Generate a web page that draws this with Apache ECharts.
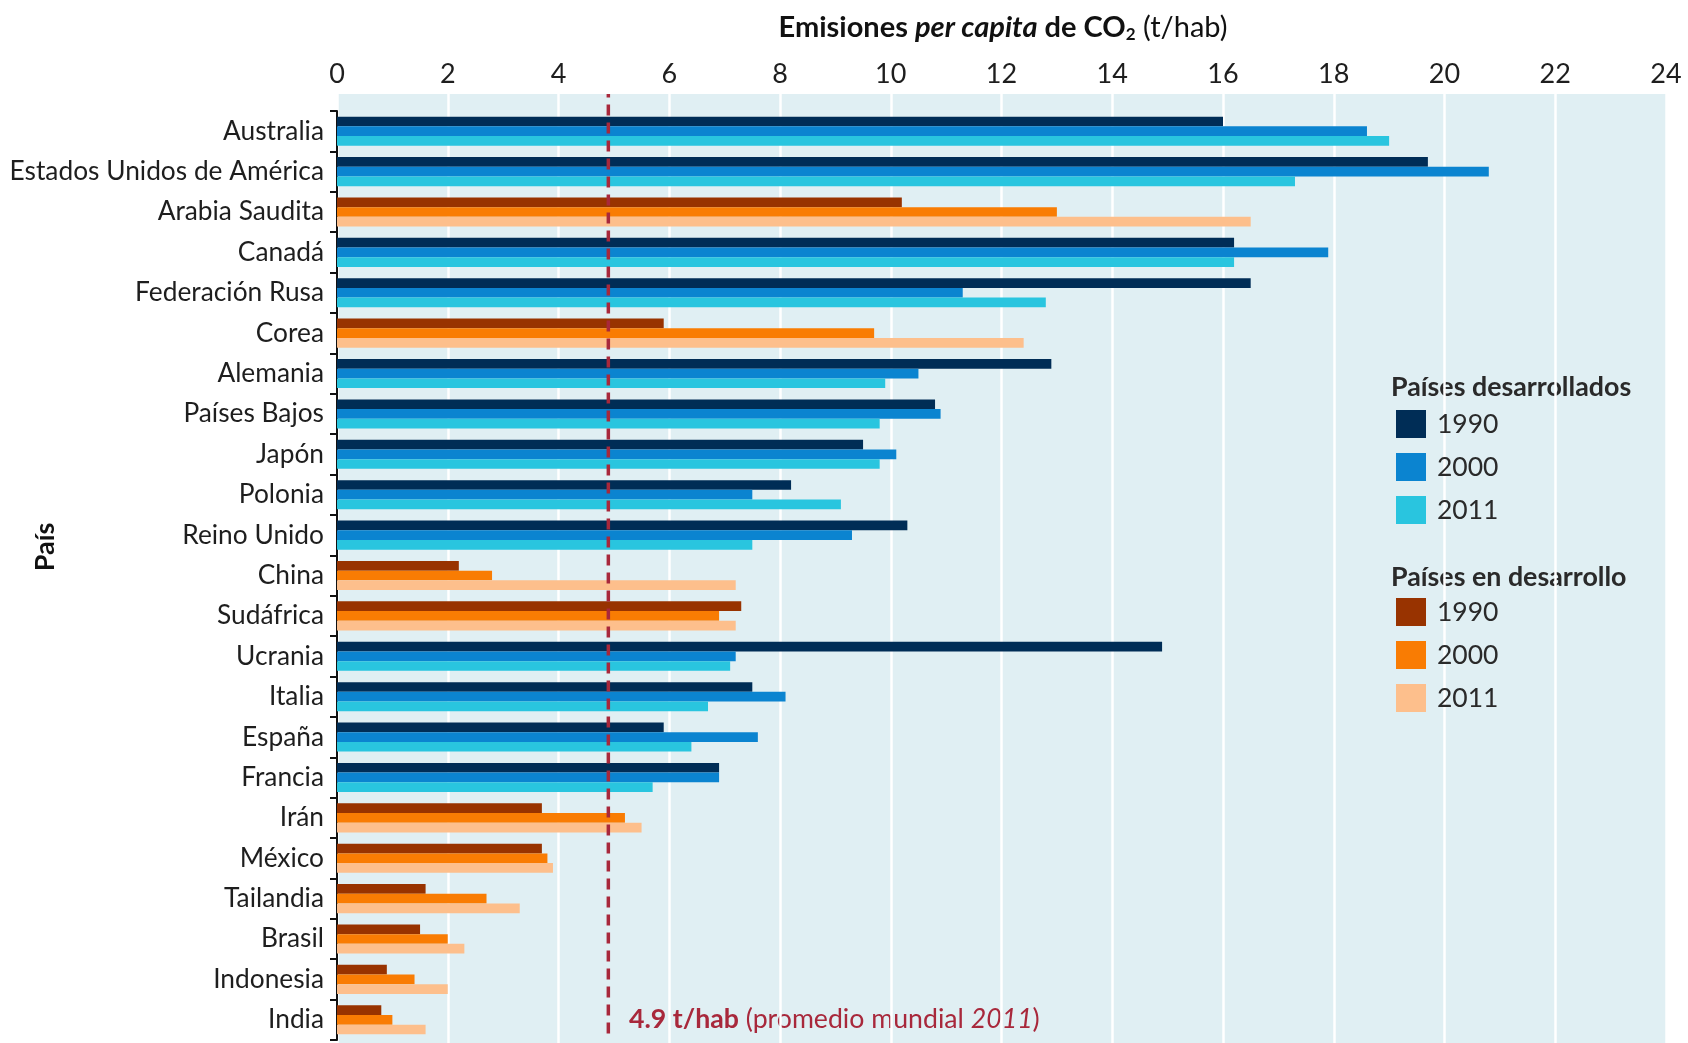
<!DOCTYPE html>
<html>
<head>
<meta charset="utf-8">
<title>Emisiones per capita de CO2</title>
<script src="https://cdn.jsdelivr.net/npm/echarts@6/dist/echarts.min.js"></script>
<style>
  html, body { margin: 0; padding: 0; background: #fff; }
  #main { width: 1688px; height: 1043px; }
</style>
</head>
<body>
<div id="main"></div>
<script>
// datos (t/hab)
var paises = ['Australia', 'Estados Unidos de América', 'Arabia Saudita', 'Canadá', 'Federación Rusa',
  'Corea', 'Alemania', 'Países Bajos', 'Japón', 'Polonia', 'Reino Unido', 'China', 'Sudáfrica',
  'Ucrania', 'Italia', 'España', 'Francia', 'Irán', 'México', 'Tailandia', 'Brasil', 'Indonesia', 'India'];
// 'd' = país desarrollado, 'e' = país en desarrollo
var grupo = ['d', 'd', 'e', 'd', 'd', 'e', 'd', 'd', 'd', 'd', 'd', 'e', 'e',
  'd', 'd', 'd', 'd', 'e', 'e', 'e', 'e', 'e', 'e'];
var v1990 = [16.0, 19.7, 10.2, 16.2, 16.5, 5.9, 12.9, 10.8, 9.5, 8.2, 10.3, 2.2, 7.3,
  14.9, 7.5, 5.9, 6.9, 3.7, 3.7, 1.6, 1.5, 0.9, 0.8];
var v2000 = [18.6, 20.8, 13.0, 17.9, 11.3, 9.7, 10.5, 10.9, 10.1, 7.5, 9.3, 2.8, 6.9,
  7.2, 8.1, 7.6, 6.9, 5.2, 3.8, 2.7, 2.0, 1.4, 1.0];
var v2011 = [19.0, 17.3, 16.5, 16.2, 12.8, 12.4, 9.9, 9.8, 9.8, 9.1, 7.5, 7.2, 7.2,
  7.1, 6.7, 6.4, 5.7, 5.5, 3.9, 3.3, 2.3, 2.0, 1.6];
var anios = ['1990', '2000', '2011'];
var xTicks = [0, 24, 2]; // min, max, intervalo
var promedio = 4.9;

var coloresDes = ['#002d56', '#0b84d0', '#29c5df'];
var coloresEnDes = ['#983300', '#f97c03', '#fdbf8c'];
var fuente = 'Lato';
var colorTexto = '#1e1e1e';
var rojo = '#a8283b';

function filtra(valores, g) {
    return valores.map(function (v, i) {
        return grupo[i] === g ? v : null;
    });
}

var valoresPorAnio = [v1990, v2000, v2011];
var series = [];
for (var k = 0; k < 3; k++) {
    series.push({
        name: 'Países desarrollados ' + anios[k],
        type: 'bar',
        xAxisIndex: 1,
        yAxisIndex: 1,
        stack: 'a' + anios[k],
        barCategoryGap: '28%',
        barGap: 0,
        itemStyle: { color: coloresDes[k] },
        data: filtra(valoresPorAnio[k], 'd')
    });
}
for (var k = 0; k < 3; k++) {
    series.push({
        name: 'Países en desarrollo ' + anios[k],
        type: 'bar',
        xAxisIndex: 1,
        yAxisIndex: 1,
        stack: 'a' + anios[k],
        barCategoryGap: '28%',
        barGap: 0,
        itemStyle: { color: coloresEnDes[k] },
        data: filtra(valoresPorAnio[k], 'e')
    });
}
// promedio mundial 2011
series.push({
    type: 'line',
    xAxisIndex: 0,
    yAxisIndex: 0,
    symbol: 'none',
    silent: true,
    z: 5,
    lineStyle: { color: rojo, width: 3.5, type: [11, 7] },
    data: [[promedio, 0.01], [promedio, 1]]
});

var myChart = echarts.init(document.getElementById('main'));
var option = {
    animation: false,
    textStyle: { fontFamily: fuente },
    grid: [
        { left: 337, right: 22, top: 94, bottom: 0, show: true, backgroundColor: '#e0eff3', borderWidth: 0 },
        { left: 337, right: 22, top: 111, bottom: 3 }
    ],
    xAxis: [
        {
            gridIndex: 0,
            type: 'value',
            position: 'top',
            min: xTicks[0], max: xTicks[1], interval: xTicks[2],
            axisLine: { show: false },
            axisTick: { show: false },
            axisLabel: { fontSize: 27, color: colorTexto, margin: 6, fontFamily: fuente },
            splitLine: { show: true, lineStyle: { color: '#ffffff', width: 2.5 } }
        },
        {
            gridIndex: 1,
            type: 'value',
            min: xTicks[0], max: xTicks[1],
            show: false
        }
    ],
    yAxis: [
        { gridIndex: 0, type: 'value', min: 0, max: 1, show: false },
        {
            gridIndex: 1,
            type: 'category',
            inverse: true,
            data: paises,
            axisLine: { show: true, lineStyle: { color: '#111', width: 2 } },
            axisTick: { show: true, length: 7, lineStyle: { color: '#111', width: 2 } },
            axisLabel: { fontSize: 26.3, color: colorTexto, margin: 13, fontFamily: fuente }
        }
    ],
    legend: [
        {
            data: series.slice(0, 3).map(function (s) { return s.name; }),
            orient: 'vertical',
            left: 1391, top: 405,
            icon: 'rect',
            itemWidth: 30, itemHeight: 28, itemGap: 15,
            formatter: function (name) { return name.slice(-4); },
            textStyle: { fontSize: 26.5, color: '#2a2a2a', fontFamily: fuente, padding: [0, 0, 0, 6] }
        },
        {
            data: series.slice(3, 6).map(function (s) { return s.name; }),
            orient: 'vertical',
            left: 1391, top: 593,
            icon: 'rect',
            itemWidth: 30, itemHeight: 28, itemGap: 15,
            formatter: function (name) { return name.slice(-4); },
            textStyle: { fontSize: 26.5, color: '#2a2a2a', fontFamily: fuente, padding: [0, 0, 0, 6] }
        }
    ],
    graphic: [
        {
            type: 'text', x: 1003, y: 28,
            style: {
                text: '{b|Emisiones }{bi|per capita}{b| de CO}{sub|2}{n| (t/hab)}',
                align: 'center', verticalAlign: 'middle',
                rich: {
                    b: { fontFamily: fuente, fontSize: 29, fontWeight: 'bold', fill: '#111' },
                    bi: { fontFamily: fuente, fontSize: 29, fontWeight: 'bold', fontStyle: 'italic', fill: '#111' },
                    sub: { fontFamily: fuente, fontSize: 17, fontWeight: 'bold', fill: '#111', padding: [14, 0, 0, 0] },
                    n: { fontFamily: fuente, fontSize: 29, fill: '#111' }
                }
            }
        },
        {
            type: 'text', x: 45, y: 547, rotation: Math.PI / 2,
            style: {
                text: 'País', align: 'center', verticalAlign: 'middle',
                fontFamily: fuente, fontSize: 27, fontWeight: 'bold', fill: '#111'
            }
        },
        {
            type: 'text', left: 1391, top: 374,
            style: {
                text: 'Países desarrollados',
                fontFamily: fuente, fontSize: 26.8, fontWeight: 'bold', fill: '#2a2a2a'
            }
        },
        {
            type: 'text', left: 1391, top: 564,
            style: {
                text: 'Países en desarrollo',
                fontFamily: fuente, fontSize: 26.8, fontWeight: 'bold', fill: '#2a2a2a'
            }
        },
        {
            type: 'text', left: 629, top: 1006,
            style: {
                text: '{b|4.9 t/hab}{n| (promedio mundial }{i|2011}{n|)}',
                rich: {
                    b: { fontFamily: fuente, fontSize: 26.7, fontWeight: 'bold', fill: rojo },
                    n: { fontFamily: fuente, fontSize: 26.7, fill: rojo },
                    i: { fontFamily: fuente, fontSize: 26.7, fontStyle: 'italic', fill: rojo }
                }
            }
        }
    ],
    series: series
};
if (option && typeof option === "object") {
    myChart.setOption(option, true);
}
</script>
</body>
</html>
